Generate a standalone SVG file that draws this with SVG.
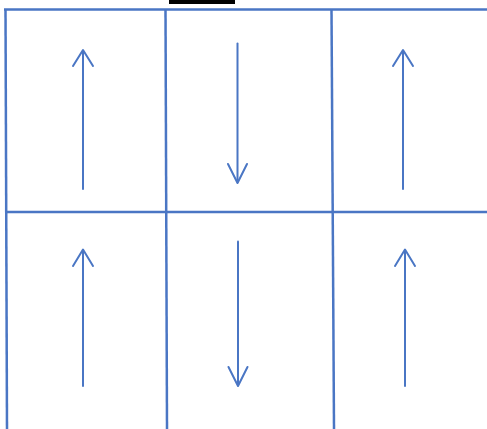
<svg xmlns="http://www.w3.org/2000/svg" width="487" height="429" viewBox="0 0 487 429">
  <style>
    .grid { stroke: #4a76c4; stroke-width: 2.5; fill: none; }
    .arr { stroke: #4a76c4; stroke-width: 2; fill: none; stroke-linecap: round; stroke-linejoin: round; }
  </style>
  <rect x="0" y="0" width="487" height="429" fill="#ffffff"/>
  <rect x="169" y="0" width="66" height="4" fill="#000000"/>
  <g id="grid">
    <line class="grid" x1="4" y1="9.5" x2="487" y2="9.5"/>
    <line class="grid" x1="5.5" y1="9" x2="7" y2="429"/>
    <line class="grid" x1="5" y1="212" x2="487" y2="212"/>
    <line class="grid" x1="165.5" y1="9" x2="167" y2="429"/>
    <line class="grid" x1="331.5" y1="9" x2="334" y2="429"/>
  </g>
  <g id="connectors">
    <g id="arrow1"><line class="arr" x1="83" y1="189" x2="83" y2="51"/><polyline class="arr" points="73,66 83,50 93,66"/></g>
    <g id="arrow2"><line class="arr" x1="237.5" y1="43.5" x2="237.5" y2="182"/><polyline class="arr" points="228,164 237.5,183 247,164"/></g>
    <g id="arrow3"><line class="arr" x1="403" y1="189" x2="403" y2="51"/><polyline class="arr" points="393,66 403,50 413,66"/></g>
    <g id="arrow4"><line class="arr" x1="83" y1="386" x2="83" y2="250"/><polyline class="arr" points="73,266 83,249.5 93,266"/></g>
    <g id="arrow5"><line class="arr" x1="238" y1="241.5" x2="238" y2="385"/><polyline class="arr" points="228.5,367 238,386 247.5,367"/></g>
    <g id="arrow6"><line class="arr" x1="405" y1="386" x2="405" y2="250"/><polyline class="arr" points="395,266 405,249.5 415,266"/></g>
  </g>
</svg>
